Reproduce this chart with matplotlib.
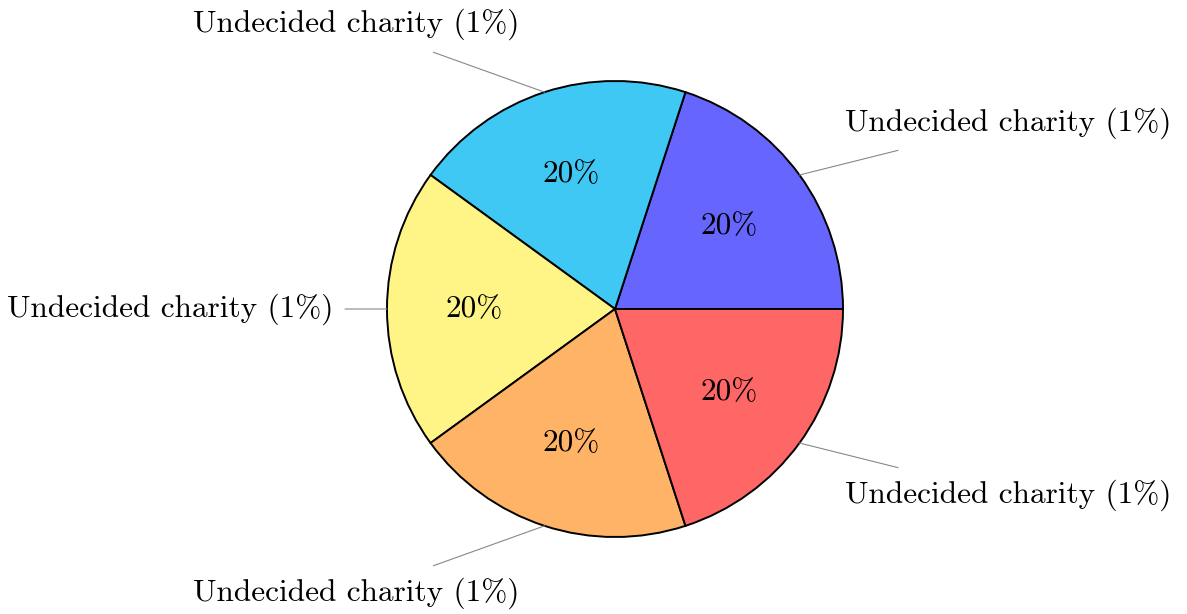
import numpy as np
import matplotlib
matplotlib.use('Agg')
import matplotlib.pyplot as plt
from matplotlib.transforms import offset_copy

# donnees du camembert
values = [20, 20, 20, 20, 20]
labels = ['Undecided charity (1%)'] * 5
colors = ['#6666FF', '#40C8F4', '#FFF586', '#FFB366', '#FF6666']

plt.rcParams['font.family'] = ['cmr10', 'DejaVu Serif']
plt.rcParams['axes.formatter.use_mathtext'] = True

fs = 22.5
fig = plt.figure(figsize=(11.87, 6.14), dpi=100)
ax = fig.add_axes([0, 0, 1, 1])

wedges, _, autotexts = ax.pie(values, colors=colors, startangle=0, counterclock=True,
                              autopct=lambda p: '%.0f%%' % p, pctdistance=0.62,
                              wedgeprops=dict(edgecolor='black', linewidth=1.4),
                              textprops=dict(fontsize=fs))

# etiquettes avec trait (style pin)
pad_pt = 8.5
pin = 0.184
for w, lab in zip(wedges, labels):
    th = np.deg2rad((w.theta1 + w.theta2) / 2)
    c, s = np.cos(th), np.sin(th)
    ax_, ay_ = (1 + pin) * c, (1 + pin) * s
    if c > 0.01:
        ha, dx = 'left', pad_pt
    elif c < -0.01:
        ha, dx = 'right', -pad_pt
    else:
        ha, dx = 'center', 0
    if s > 0.01:
        va, dy = 'bottom', pad_pt
    elif s < -0.01:
        va, dy = 'top', -pad_pt
    else:
        va, dy = 'center', 0
    tr = offset_copy(ax.transData, fig=fig, x=dx, y=dy, units='points')
    ax.annotate(lab, xy=(c, s), xytext=(ax_, ay_), textcoords=tr,
                ha=ha, va=va, fontsize=fs,
                bbox=dict(boxstyle='square,pad=%.3f' % (pad_pt / fs), fc='none', ec='none'),
                arrowprops=dict(arrowstyle='-', color='#888888', lw=0.8,
                                shrinkA=0, shrinkB=0, relpos=(0.5, 0.5)))

ax.set_aspect('auto')
ax.set_xlim(-615 / 228, (1187 - 615) / 228)
ax.set_ylim(-(614 - 309) / 228, 309 / 228)
ax.axis('off')

fig.savefig('out.png', dpi=100)
